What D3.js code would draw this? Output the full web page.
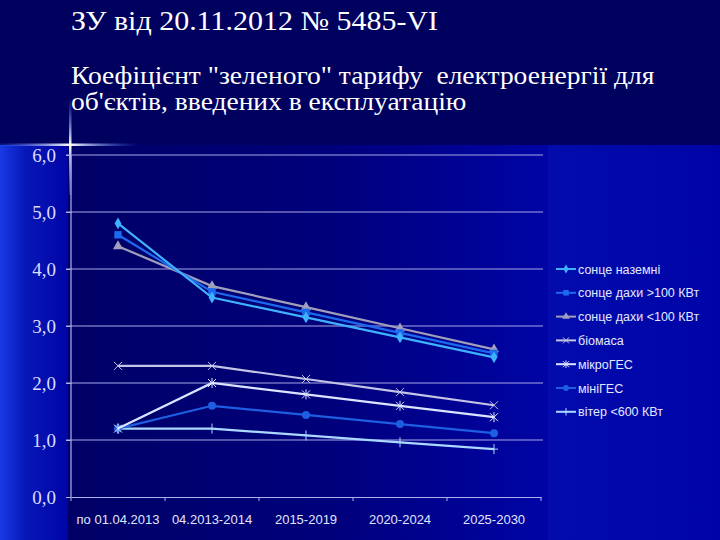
<!DOCTYPE html>
<html><head><meta charset="utf-8">
<script src="https://cdn.jsdelivr.net/npm/d3@7"></script>
<style>html,body{margin:0;padding:0;background:#00005e;}svg{display:block;}
.serif{font-family:"Liberation Serif","DejaVu Serif","Times New Roman",serif;}
.sans{font-family:"Liberation Sans",Arial,sans-serif;}</style>
</head><body>
<script>
const categories = ["по 01.04.2013", "04.2013-2014", "2015-2019", "2020-2024", "2025-2030"];
const seriesNames = ["сонце наземні", "сонце дахи >100 КВт", "сонце дахи <100 КВт", "біомаса", "мікроГЕС", "мініГЕС", "вітер <600 КВт"];
const sunGround = [4.8, 3.5, 3.15, 2.8, 2.45];
const sunRoofBig = [4.6, 3.6, 3.24, 2.88, 2.52];
const sunRoofSmall = [4.4, 3.7, 3.33, 2.96, 2.59];
const biomass = [2.3, 2.3, 2.07, 1.84, 1.61];
const microHydro = [1.2, 2.0, 1.8, 1.6, 1.4];
const miniHydro = [1.2, 1.6, 1.44, 1.28, 1.12];
const wind = [1.2, 1.2, 1.08, 0.96, 0.84];
const yTicks = [0, 1, 2, 3, 4, 5, 6];
const yTickLabels = ["0,0", "1,0", "2,0", "3,0", "4,0", "5,0", "6,0"];
const titleLines = ["ЗУ від 20.11.2012 № 5485-VI"];
const subtitleLines = ["Коефіцієнт \"зеленого\" тарифу  електроенергії для", "об'єктів, введених в експлуатацію"];

const W = 720, H = 540;
const svg = d3.select("body").append("svg").attr("width", W).attr("height", H);
const defs = svg.append("defs");

const gLeft = defs.append("linearGradient").attr("id", "leftGlow").attr("x1", 0).attr("x2", 1).attr("y1", 0).attr("y2", 0);
gLeft.append("stop").attr("offset", 0).attr("stop-color", "#1a3ae6");
gLeft.append("stop").attr("offset", 0.35).attr("stop-color", "#0818b8");
gLeft.append("stop").attr("offset", 1).attr("stop-color", "#0004a6");
const gPlot = defs.append("linearGradient").attr("id", "plotBg").attr("x1", 0).attr("x2", 1).attr("y1", 0).attr("y2", 0);
gPlot.append("stop").attr("offset", 0).attr("stop-color", "#000066");
gPlot.append("stop").attr("offset", 0.55).attr("stop-color", "#00007c");
gPlot.append("stop").attr("offset", 1).attr("stop-color", "#0004a4");
const gH = defs.append("linearGradient").attr("id", "hGlow").attr("x1", 0).attr("x2", 1).attr("y1", 0).attr("y2", 0);
gH.append("stop").attr("offset", 0).attr("stop-color", "#3060ff").attr("stop-opacity", 0.2);
gH.append("stop").attr("offset", 0.5).attr("stop-color", "#ffffff").attr("stop-opacity", 1);
gH.append("stop").attr("offset", 1).attr("stop-color", "#3060ff").attr("stop-opacity", 0);
const gV = defs.append("linearGradient").attr("id", "vGlow").attr("x1", 0).attr("x2", 0).attr("y1", 0).attr("y2", 1);
gV.append("stop").attr("offset", 0).attr("stop-color", "#3060ff").attr("stop-opacity", 0);
gV.append("stop").attr("offset", 0.5).attr("stop-color", "#ffffff").attr("stop-opacity", 1);
gV.append("stop").attr("offset", 1).attr("stop-color", "#6080ff").attr("stop-opacity", 0.3);

svg.append("rect").attr("x", 0).attr("y", 0).attr("width", W).attr("height", 145).attr("fill", "#00005e");
svg.append("rect").attr("x", 0).attr("y", 145).attr("width", W).attr("height", H - 145).attr("fill", "url(#leftGlow)");
svg.append("rect").attr("x", 0).attr("y", 145).attr("width", 70).attr("height", H - 145).attr("fill", "url(#leftGlow)");
svg.append("rect").attr("x", 68).attr("y", 145).attr("width", 480).attr("height", H - 145).attr("fill", "url(#plotBg)");

svg.append("rect").attr("x", 0).attr("y", 143.5).attr("width", 140).attr("height", 2.5).attr("fill", "url(#hGlow)");
svg.append("rect").attr("x", 69).attr("y", 95).attr("width", 2.5).attr("height", 100).attr("fill", "url(#vGlow)");

svg.selectAll("text.title").data(titleLines).enter().append("text").attr("class", "title serif")
  .attr("transform", (d, i) => `translate(71,${30 + i * 27}) scale(1.11,1)`)
  .style("font-size", "27px").attr("fill", "#ffffff").text(d => d);
svg.selectAll("text.sub").data(subtitleLines).enter().append("text").attr("class", "sub serif")
  .attr("transform", (d, i) => `translate(71,${84 + i * 26}) scale(1.1,1)`)
  .style("font-size", "25px").attr("fill", "#ffffff").style("white-space", "pre").text(d => d);

const x = d3.scaleBand().domain(categories).range([71, 541]);
const y = d3.scaleLinear().domain([0, 6]).range([497, 155]);
const cx = d => x(d) + x.bandwidth() / 2;

svg.append("g").selectAll("line").data(yTicks.filter(t => t > 0)).enter().append("line")
  .attr("x1", 66).attr("x2", 543).attr("y1", d => y(d)).attr("y2", d => y(d))
  .attr("stroke", "#a8a8e8").attr("stroke-width", 1.2);

const yAxis = d3.axisLeft(y).tickValues(yTicks).tickFormat((d, i) => yTickLabels[i]).tickSize(5).tickPadding(10);
const gy = svg.append("g").attr("transform", "translate(71,0)").call(yAxis);
gy.attr("font-family", null).attr("font-size", null);
gy.select(".domain").attr("stroke", "#b0b0ee").attr("stroke-width", 1.2).attr("d", `M0,${y(6)}V${y(0)}`);
gy.selectAll(".tick line").attr("stroke", "#b0b0ee");
gy.selectAll(".tick text").attr("class", "serif").attr("fill", "#dcdcff").style("font-size", "19px");

const xAxis = d3.axisBottom(x).tickSize(0).tickPadding(18);
const gx = svg.append("g").attr("transform", `translate(0,${y(0)})`).call(xAxis);
gx.attr("font-family", null).attr("font-size", null);
gx.select(".domain").attr("stroke", "#b0b0ee").attr("stroke-width", 1.2);
gx.selectAll(".tick text").attr("class", "sans").attr("fill", "#e0e6ff").style("font-size", "13px");
gx.append("g").selectAll("line").data(categories.concat([null])).enter().append("line")
  .attr("x1", d => d === null ? 541 : x(d)).attr("x2", d => d === null ? 541 : x(d))
  .attr("y1", 0).attr("y2", 4).attr("stroke", "#b0b0ee");

const series = [
  {name: seriesNames[0], values: sunGround, color: "#3fb2ff", sym: "diamond"},
  {name: seriesNames[1], values: sunRoofBig, color: "#1c6af0", sym: "square"},
  {name: seriesNames[2], values: sunRoofSmall, color: "#a0a0bc", sym: "triangle"},
  {name: seriesNames[3], values: biomass, color: "#c4c4e6", sym: "times"},
  {name: seriesNames[4], values: microHydro, color: "#dce4ff", sym: "asterisk"},
  {name: seriesNames[5], values: miniHydro, color: "#1e5ee2", sym: "circle"},
  {name: seriesNames[6], values: wind, color: "#aad8ff", sym: "plus"}
];

function marker(g, type, color, s) {
  s = s || 1;
  if (type === "diamond") g.append("path").attr("d", d3.symbol(d3.symbolDiamond, 40 * s * s)()).attr("fill", color);
  else if (type === "square") g.append("path").attr("d", d3.symbol(d3.symbolSquare, 55 * s * s)()).attr("fill", color);
  else if (type === "triangle") g.append("path").attr("d", d3.symbol(d3.symbolTriangle, 45 * s * s)()).attr("fill", color);
  else if (type === "circle") g.append("path").attr("d", d3.symbol(d3.symbolCircle, 50 * s * s)()).attr("fill", color);
  else if (type === "times") g.append("path").attr("d", `M${-4*s},${-4*s}L${4*s},${4*s}M${-4*s},${4*s}L${4*s},${-4*s}`).attr("stroke", color).attr("stroke-width", 1);
  else if (type === "asterisk") g.append("path").attr("d", `M${-4*s},${-4*s}L${4*s},${4*s}M${-4*s},${4*s}L${4*s},${-4*s}M0,${-5*s}L0,${5*s}`).attr("stroke", color).attr("stroke-width", 1);
  else if (type === "plus") g.append("path").attr("d", `M0,${-5*s}L0,${5*s}M${-4*s},0L${4*s},0`).attr("stroke", color).attr("stroke-width", 1);
}

const line = d3.line().x((d, i) => cx(categories[i])).y(d => y(d));
const plotG = svg.append("g");
series.slice().reverse().forEach(s => {
  plotG.append("path").attr("d", line(s.values)).attr("fill", "none")
    .attr("stroke", s.color).attr("stroke-width", 2.2);
  s.values.forEach((v, i) => {
    const g = plotG.append("g").attr("transform", `translate(${cx(categories[i])},${y(v)})`);
    marker(g, s.sym, s.color);
  });
});

const legend = svg.append("g");
series.forEach((s, i) => {
  const ly = 269 + i * 23.8;
  const g = legend.append("g").attr("transform", `translate(556,${ly})`);
  g.append("line").attr("x1", 0).attr("x2", 20).attr("y1", 0).attr("y2", 0).attr("stroke", s.color).attr("stroke-width", 2);
  const m = g.append("g").attr("transform", "translate(10,0)");
  marker(m, s.sym, s.color, 0.75);
  g.append("text").attr("class", "sans").attr("x", 22).attr("y", 4.5).attr("fill", "#e4e8ff")
    .style("font-size", "12.5px").text(s.name);
});
</script>
</body></html>
